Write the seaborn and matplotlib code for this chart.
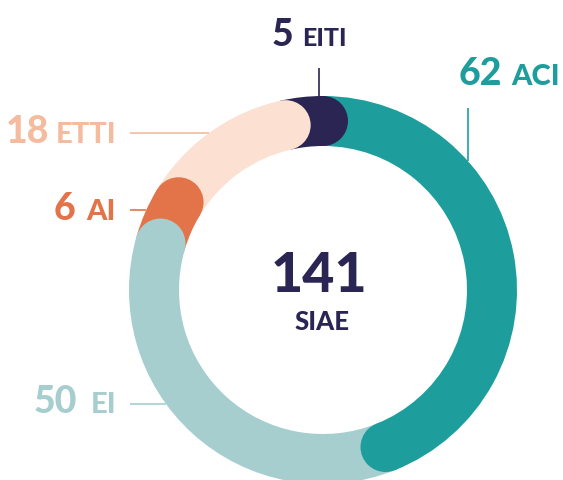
import matplotlib
matplotlib.use('Agg')
import matplotlib.pyplot as plt
import seaborn as sns
import numpy as np
from matplotlib.patches import Circle

# ---- data ----
categories = ['ACI', 'EI', 'AI', 'ETTI', 'EITI']
values = [62, 50, 6, 18, 5]
ring_colors = ['#1d9e9d', '#a7cecf', '#e37449', '#fce0d1', '#2a2553']
label_colors = ['#1d9e9d', '#a7cecf', '#e37449', '#f4bb9e', '#2a2553']
total_label = str(sum(values))
center_label = 'SIAE'

sns.set_theme(style='white')
plt.rcParams['font.family'] = ['Lato', 'DejaVu Sans']

W, H = 563, 480
fig = plt.figure(figsize=(W / 100, H / 100), dpi=100)
ax = fig.add_axes([0, 0, 1, 1])

def Y(p):
    return H - p

cx, cy = 323, Y(290)
R_out, ring_w = 194, 50
r_mid = R_out - ring_w / 2

ax.pie(values, colors=ring_colors, startangle=90, counterclock=False,
       radius=R_out, center=(cx, cy),
       wedgeprops=dict(width=ring_w, linewidth=0))

# rounded end caps (each segment's end rides over the next segment)
total = sum(values)
cum = np.cumsum(values)
caps = []
for i, c in enumerate(cum):
    th = np.deg2rad(90 - 360 * c / total)
    caps.append((cx + r_mid * np.cos(th), cy + r_mid * np.sin(th), ring_colors[i]))
for k, (x, y, col) in enumerate(reversed(caps)):
    ax.add_patch(Circle((x, y), ring_w / 2, facecolor=col, edgecolor='none', zorder=3 + k * 0.1))

ax.set_xlim(0, W)
ax.set_ylim(0, H)
ax.set_aspect('equal')
ax.axis('off')

# ---- labels ----
num_fs = 27
# (number x-left, name x-left, baseline y in px, name size, leader line)
lab = {
    'EITI': dict(nx=272, mx=302, by=46, fs=18, line=((319, 319), (68, 96))),
    'ACI': dict(nx=459, mx=511, by=85, fs=21, line=((468, 468), (108, 161))),
    'ETTI': dict(nx=6, mx=56, by=143, fs=21, line=((130, 209), (133, 133))),
    'AI': dict(nx=54, mx=86, by=220, fs=21, line=((130, 146), (210, 210))),
    'EI': dict(nx=34, mx=91, by=413, fs=21, line=((130, 166), (404, 404))),
}
for cat, val, col in zip(categories, values, label_colors):
    d = lab[cat]
    ax.text(d['nx'], Y(d['by']), str(val), color=col, fontsize=num_fs,
            fontweight='black', ha='left', va='baseline')
    ax.text(d['mx'], Y(d['by']), cat, color=col, fontsize=d['fs'],
            fontweight='black', ha='left', va='baseline')
    (x0, x1), (y0, y1) = d['line']
    ax.plot([x0, x1], [Y(y0), Y(y1)], color=col, lw=1.2, solid_capstyle='butt', zorder=1)

ax.text(cx - 4, Y(292), total_label, color='#2a2553', fontsize=40,
        fontweight='black', ha='center', va='baseline')
ax.text(cx - 1, Y(330), center_label, color='#2a2553', fontsize=18.5,
        fontweight='black', ha='center', va='baseline')

fig.savefig('out.png', dpi=100)
